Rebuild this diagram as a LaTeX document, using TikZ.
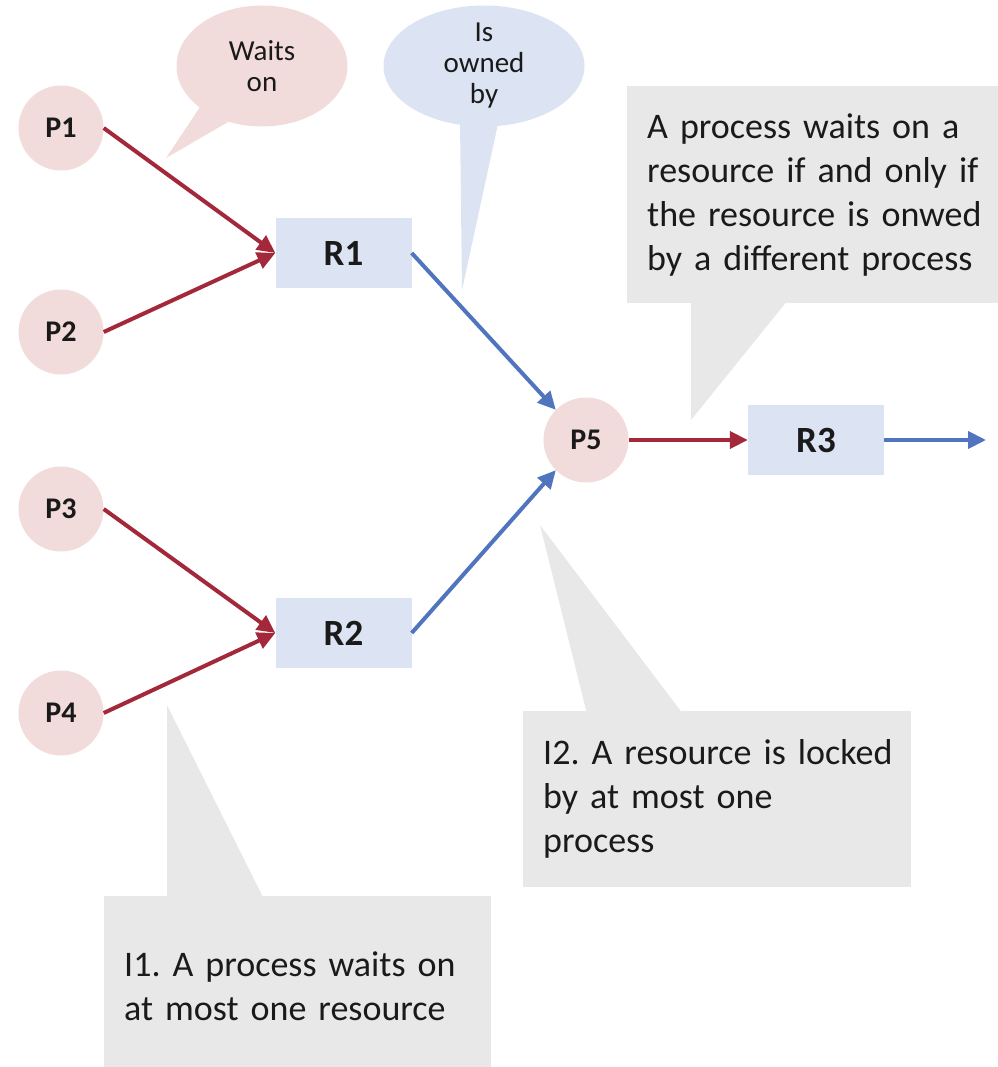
\documentclass[tikz,border=0pt]{standalone}
\usepackage{fontspec}
\setmainfont{Carlito}
\usetikzlibrary{arrows.meta,shapes.geometric,calc}
\definecolor{pfill}{HTML}{F2DCDB}
\definecolor{rfill}{HTML}{DCE3F2}
\definecolor{cgray}{HTML}{E8E8E8}
\definecolor{ered}{HTML}{A2283A}
\definecolor{eblue}{HTML}{5174BF}
\definecolor{ink}{HTML}{1A1A1A}
\frenchspacing
\begin{document}
\begin{tikzpicture}[x=1pt,y=-1pt,
  proc/.style={circle,fill=pfill,minimum size=85pt,inner sep=0pt,
    font=\fontsize{30}{32}\selectfont\bfseries,text=ink},
  res/.style={rectangle,fill=rfill,minimum width=136pt,minimum height=70pt,inner sep=0pt,
    font=\fontsize{37}{40}\selectfont\bfseries,text=ink},
  waitedge/.style={draw=ered,line width=4pt,-{Triangle[length=18pt,width=17pt]}},
  ownedge/.style={draw=eblue,line width=4pt,-{Triangle[length=18pt,width=17pt]}},
  note/.style={rectangle,fill=cgray,align=left,text=ink,
    font=\fontsize{36}{44}\selectfont\frenchspacing,inner xsep=20pt,inner ysep=0pt},
  bubble/.style={ellipse,inner sep=0pt,align=center,text=ink,
    font=\fontsize{29}{31}\selectfont}]
\useasboundingbox (0,0) rectangle (997,1067);

% callout tails
\fill[pfill] (200,107) -- (166,158) -- (228,122) -- cycle;
\fill[rfill] (460,122) -- (462,290) -- (498,124) -- cycle;
\fill[cgray] (691,300) -- (691,420) -- (788,300) -- cycle;
\fill[cgray] (587,714) -- (540,525) -- (683,714) -- cycle;
\fill[cgray] (167,899) -- (167,705) -- (264,899) -- cycle;

% bubbles and notes
\node[bubble,fill=pfill,minimum width=171pt,minimum height=121pt] (waits) at (262,66) {Waits\\on};
\node[bubble,fill=rfill,minimum width=201pt,minimum height=121pt] (owned) at (484,66) {Is\\owned\\by};
\node[note,text width=350pt,minimum height=217pt,anchor=north west] (iff) at (627,86)
  {\mbox{A process waits on a}\\\mbox{resource if and only if}\\\mbox{the resource is onwed}\\\mbox{by a different process}};
\node[note,text width=348pt,minimum height=176pt,anchor=north west] (inv2) at (523,711)
  {\mbox{I2. A resource is locked}\\by at most one\\process};
\node[note,text width=347pt,minimum height=181pt,anchor=north west] (inv1) at (104,896)
  {\mbox{I1. A process waits on}\\\mbox{at most one resource}};

% graph
\node[proc] (P1) at (61,128) {P1};
\node[proc] (P2) at (61,332) {P2};
\node[proc] (P3) at (61,509) {P3};
\node[proc] (P4) at (61,713) {P4};
\node[res] (R1) at (343.5,253) {R1};
\node[res] (R2) at (343.5,633) {R2};
\node[proc] (P5) at (586,440) {P5};
\node[res] (R3) at (816,440) {R3};
\coordinate (out) at (986,440);

\draw[waitedge] (P1.east) -- (R1.west);
\draw[waitedge] (P2.east) -- (R1.west);
\draw[waitedge] (P3.east) -- (R2.west);
\draw[waitedge] (P4.east) -- (R2.west);
\draw[ownedge] (R1.east) -- (P5.135);
\draw[ownedge] (R2.east) -- (P5.225);
\draw[waitedge] (P5.east) -- (R3.west);
\draw[ownedge] (R3.east) -- (out);
\end{tikzpicture}
\end{document}
